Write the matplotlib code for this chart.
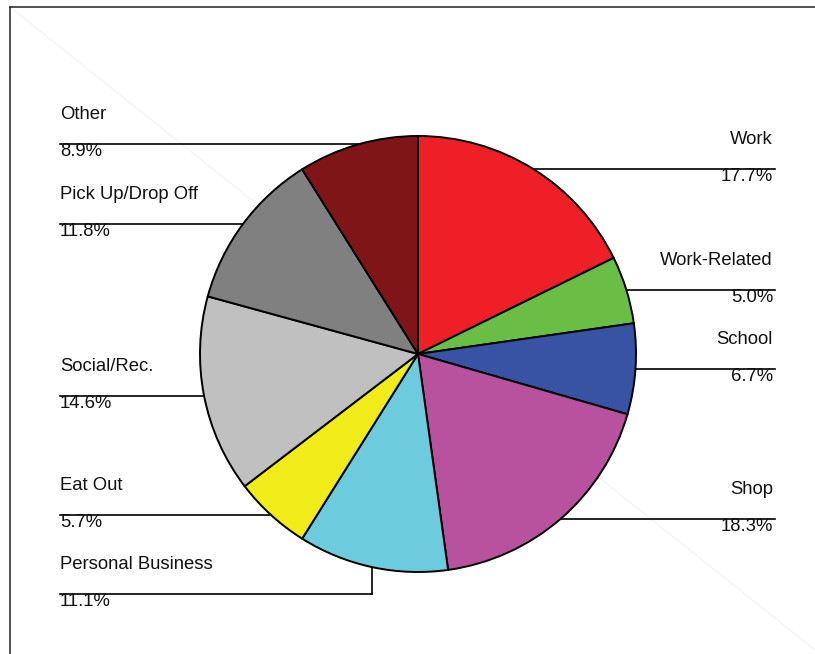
import matplotlib.pyplot as plt
import numpy as np

plt.rcParams['font.family'] = ['Liberation Sans', 'DejaVu Sans']

# trip purpose shares (%), clockwise from 12 o'clock
purposes = ['Work', 'Work-Related', 'School', 'Shop', 'Personal Business',
            'Eat Out', 'Social/Rec.', 'Pick Up/Drop Off', 'Other']
shares = [17.7, 5.0, 6.7, 18.3, 11.1, 5.7, 14.6, 11.8, 8.9]
colors = ['#ee1f25', '#6abd45', '#3853a4', '#b8529e', '#6ccbdc',
          '#f2eb1a', '#c0c0c0', '#808080', '#801518']

W, H = 815, 654
cx, cy, r = 418, H - 354, 218

fig = plt.figure(figsize=(W / 100, H / 100), dpi=100)
ax = fig.add_axes([0, 0, 1, 1])

wedges, _ = ax.pie(shares, colors=colors, startangle=90, counterclock=False,
                   center=(cx, cy), radius=r,
                   wedgeprops=dict(edgecolor='black', linewidth=1.4))
for w in wedges:
    w.set_zorder(3)
ax.set_aspect('auto')
ax.set_xlim(0, W)
ax.set_ylim(0, H)
ax.axis('off')

# frame pieces and faint diagonal
ax.plot([10, W], [H - 7, H - 7], color='#222222', lw=1.1, zorder=1)
ax.plot([10, 10], [H - 7, 0], color='#222222', lw=1.1, zorder=1)
ax.plot([10, W], [H - 7, H - 650], color='#f0f0f0', lw=0.6, zorder=0)

left_x, right_x = 60, 775
fs = 13.3
total = sum(shares)
cum = 0
for name, v in zip(purposes, shares):
    mid = (cum + v / 2) / total
    cum += v
    th = np.deg2rad(360 * mid)
    ex = cx + r * np.sin(th)
    ey = cy + r * np.cos(th)
    ly = ey
    if name == 'Personal Business':
        # pushed down below the Eat Out label
        ly = H - 594
        ax.plot([ex, ex], [ey, ly], color='black', lw=1.2, zorder=2)
    if ex < cx:
        ax.plot([left_x, ex], [ly, ly], color='black', lw=1.2, zorder=2)
        tx, ha = left_x, 'left'
    else:
        ax.plot([ex, right_x], [ly, ly], color='black', lw=1.2, zorder=2)
        tx, ha = right_x - 2, 'right'
    ax.text(tx, ly + 25, name, ha=ha, va='baseline', fontsize=fs,
            color='#111111')
    ax.text(tx, ly + 1, '%.1f%%' % v, ha=ha, va='top', fontsize=fs,
            color='#111111')

fig.savefig('out.png', dpi=100)
